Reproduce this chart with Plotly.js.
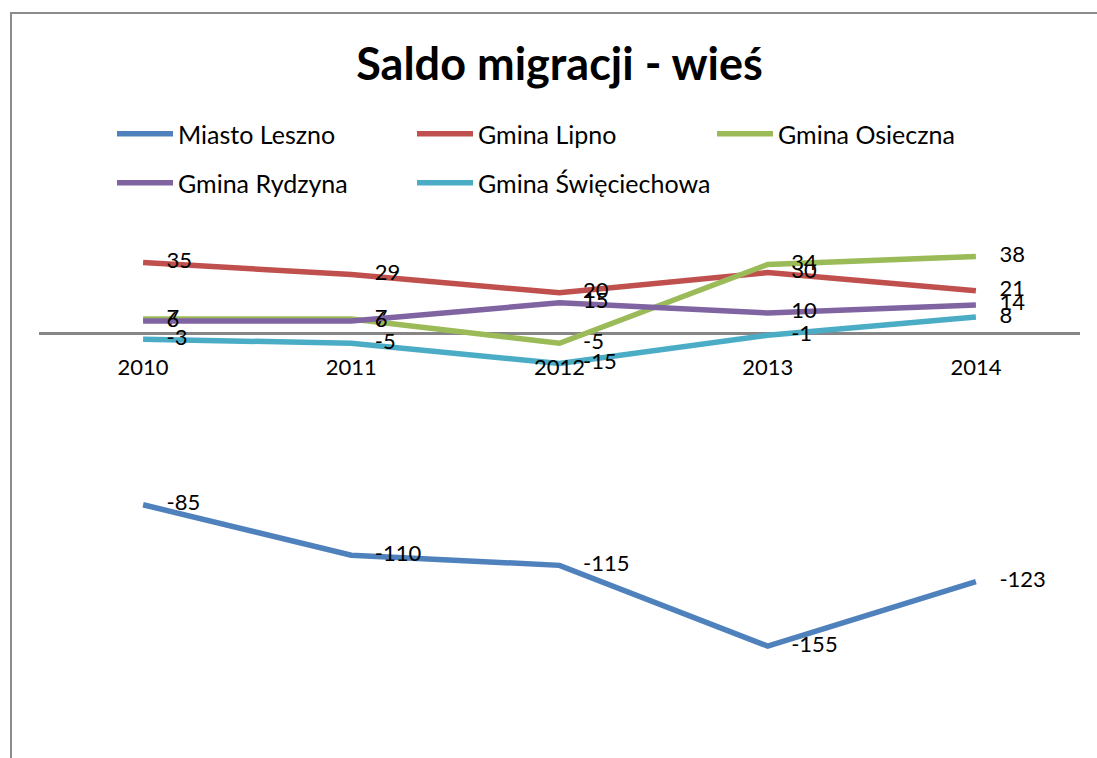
<!DOCTYPE html>
<html>
<head>
<meta charset="utf-8">
<script src="https://cdn.plot.ly/plotly-3.0.1.min.js"></script>
<style>
  body { margin: 0; background: #fff; }
  #chart { width: 1097px; height: 758px; }
  #frame {
    position: absolute; left: 10px; top: 12px; width: 1100px; height: 760px;
    border-left: 2px solid #8c8c8c; border-top: 2px solid #8c8c8c;
    pointer-events: none;
  }
</style>
</head>
<body>
<div id="chart"></div>
<div id="frame"></div>
<script>
const years = ['2010', '2011', '2012', '2013', '2014'];
const seriesNames = ['Miasto Leszno', 'Gmina Lipno', 'Gmina Osieczna', 'Gmina Rydzyna', 'Gmina Święciechowa'];
const leszno = [-85, -110, -115, -155, -123];
const lipno = [35, 29, 20, 30, 21];
const osieczna = [7, 7, -5, 34, 38];
const rydzyna = [6, 6, 15, 10, 14];
const swieciechowa = [-3, -5, -15, -1, 8];

const palette = ['#4F81BD', '#C0504D', '#9BBB59', '#8064A2', '#4BACC6'];
const FONT = 'Lato, "Open Sans", sans-serif';
const Y_RANGE = [-200, 60];
const W = 1097, H = 758;

const values = [leszno, lipno, osieczna, rydzyna, swieciechowa];

// one legend per entry so each sits where Excel put it (3 + 2 rows)
const legendSlots = [
  { x: 112, y: 134 },
  { x: 412, y: 134 },
  { x: 712, y: 134 },
  { x: 112, y: 183 },
  { x: 412, y: 183 },
];
const legendIds = ['legend', 'legend2', 'legend3', 'legend4', 'legend5'];

const data = values.map((v, i) => ({
  type: 'scatter',
  name: seriesNames[i],
  x: years,
  y: v,
  text: v.map(String),
  mode: 'lines+markers+text',
  textposition: 'middle right',
  textfont: { family: FONT, size: 22, color: '#000' },
  cliponaxis: false,
  line: { color: palette[i], width: 5.5 },
  // transparent markers only push the labels off the points
  marker: { size: 36, color: 'rgba(0,0,0,0)' },
  legend: legendIds[i],
  hoverinfo: 'x+y+name',
}));

const layout = {
  width: W,
  height: H,
  paper_bgcolor: '#fff',
  plot_bgcolor: '#fff',
  font: { family: FONT, color: '#000' },
  margin: { l: 39, r: 17, t: 212, b: 21 },
  title: {
    text: '<b>Saldo migracji - wieś</b>',
    font: { family: FONT, size: 45, color: '#000' },
    x: 0.5,
    xref: 'paper',
    y: 1 - 64 / H,
    yref: 'container',
    yanchor: 'middle',
  },
  showlegend: true,
  xaxis: {
    type: 'category',
    range: [-0.5, years.length - 0.5],
    anchor: 'free',
    position: (0 - Y_RANGE[0]) / (Y_RANGE[1] - Y_RANGE[0]),
    showline: false,
    showgrid: false,
    ticks: '',
    ticklabelstandoff: 19,
    tickfont: { family: FONT, size: 22, color: '#000' },
    fixedrange: true,
  },
  yaxis: {
    range: Y_RANGE,
    showgrid: false,
    showticklabels: false,
    ticks: '',
    zeroline: true,
    zerolinecolor: '#868686',
    zerolinewidth: 3,
    layer: 'below traces',
    fixedrange: true,
  },
};

legendIds.forEach((id, i) => {
  layout[id] = {
    orientation: 'h',
    xref: 'container',
    yref: 'container',
    xanchor: 'left',
    yanchor: 'middle',
    x: legendSlots[i].x / W,
    y: 1 - legendSlots[i].y / H,
    font: { family: FONT, size: 25, color: '#000' },
    itemwidth: 56,
    bgcolor: 'rgba(0,0,0,0)',
  };
});

Plotly.newPlot('chart', data, layout, { displayModeBar: false, staticPlot: true });
</script>
</body>
</html>
